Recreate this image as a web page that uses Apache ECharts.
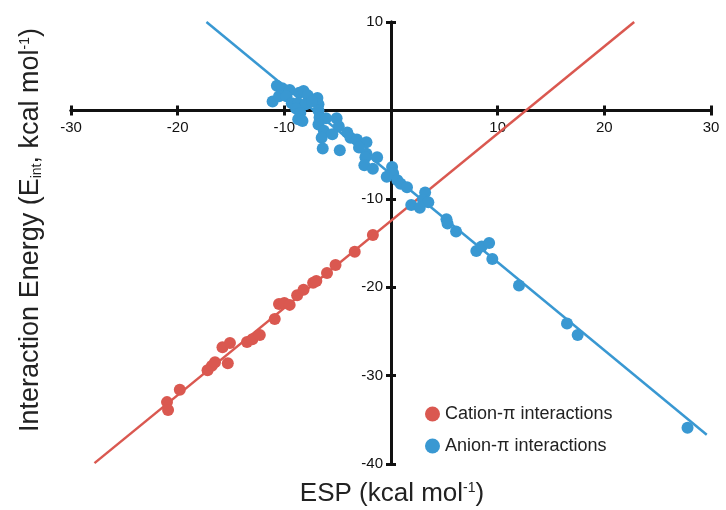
<!DOCTYPE html>
<html>
<head>
<meta charset="utf-8">
<script src="https://cdn.jsdelivr.net/npm/echarts@6/dist/echarts.min.js"></script>
<style>
html, body { margin: 0; padding: 0; background: #fff; }
#main { width: 726px; height: 510px; }
</style>
</head>
<body>
<div id="main"></div>
<script>
// 数据
var cationPoints = [
	[-21.0, -33.0], [-20.9, -33.9], [-19.8, -31.6], [-17.2, -29.4], [-16.8, -28.9],
	[-16.5, -28.5], [-15.3, -28.6], [-15.8, -26.8], [-15.1, -26.3], [-13.5, -26.2],
	[-13.0, -25.9], [-12.3, -25.4], [-10.9, -23.6], [-10.5, -21.9], [-10.0, -21.8],
	[-9.5, -22.0], [-8.8, -20.9], [-8.2, -20.3], [-7.3, -19.5], [-7.0, -19.3],
	[-6.0, -18.4], [-5.2, -17.5], [-3.4, -16.0], [-1.7, -14.1]
];
var anionPoints = [
	[-10.7, 2.8], [-10.2, 2.5], [-9.5, 2.3], [-11.1, 1.0], [-10.5, 1.6],
	[-9.8, 1.6], [-9.3, 0.8], [-8.6, 2.0], [-8.2, 2.2], [-7.8, 1.7],
	[-6.9, 1.4], [-6.8, 0.7], [-8.7, 0.8], [-8.0, 0.7], [-7.4, 1.0],
	[-8.9, 0.2], [-8.5, -0.3], [-8.7, -1.0], [-8.3, -1.2], [-6.8, 0.0],
	[-6.7, -0.8], [-6.1, -0.9], [-6.8, -1.6], [-6.3, -2.3], [-6.5, -3.1],
	[-5.1, -0.9], [-4.9, -1.8], [-5.5, -2.7], [-4.1, -2.5], [-3.8, -3.1],
	[-3.2, -3.3], [-2.3, -3.6], [-6.4, -4.3], [-4.8, -4.5], [-3.0, -4.2],
	[-2.3, -4.9], [-1.3, -5.3], [-2.4, -5.3], [-2.5, -6.2], [-1.7, -6.6],
	[0.1, -6.4], [0.2, -7.1], [0.6, -7.9], [0.9, -8.3], [1.5, -8.7],
	[3.2, -9.3], [3.0, -10.1], [3.5, -10.4], [1.9, -10.7], [2.7, -11.0],
	[5.2, -12.3], [5.3, -12.8], [6.1, -13.7], [8.0, -15.9], [8.5, -15.4],
	[9.2, -15.0], [9.5, -16.8], [12.0, -19.8], [16.5, -24.1], [17.5, -25.4],
	[27.8, -35.9], [-0.4, -7.5]
];
// 拟合线端点
var cationFit = [[-27.8, -39.9], [22.8, 10]];
var anionFit = [[-17.3, 10], [29.6, -36.7]];

var seriesNames = ['Cation-π interactions', 'Anion-π interactions'];
var xTicks = { min: -30, max: 30, step: 10 };
var yTicks = { min: -40, max: 10, step: 10 };

var red = '#DA5850';
var blue = '#3998D2';
var ink = '#111';

// 零轴所在像素位置（标签轴用 offset 挪过去）
var grid = { left: 71, right: 15, top: 22, bottom: 46 };
var xZeroOffset = -354; // 底边到 y=0
var yZeroOffset = -320; // 左边到 x=0

function hideZero(v) {
	return v === 0 ? '' : v;
}

function lineAxis(dim, inside) {
	var t = dim == 'x' ? xTicks : yTicks;
	return {
		type: 'value', position: dim == 'x' ? 'bottom' : 'left',
		min: t.min, max: t.max, interval: t.step,
		axisLine: { show: true, onZero: true, onZeroAxisIndex: 0, lineStyle: { color: ink, width: 3 } },
		splitLine: { show: false },
		axisTick: { show: true, inside: inside, length: 5, lineStyle: { color: ink, width: 3 } },
		axisLabel: { show: false }
	};
}

function labelAxis(dim) {
	var t = dim == 'x' ? xTicks : yTicks;
	return {
		type: 'value', position: dim == 'x' ? 'bottom' : 'left',
		offset: dim == 'x' ? xZeroOffset : yZeroOffset,
		min: t.min, max: t.max, interval: t.step,
		axisLine: { show: false, onZero: false },
		splitLine: { show: false },
		axisTick: { show: false },
		axisLabel: {
			margin: dim == 'x' ? 10 : 8,
			fontSize: 15, color: '#111', fontFamily: 'Liberation Sans',
			formatter: hideZero
		}
	};
}

var option = {
	animation: false,
	grid: grid,
	xAxis: [lineAxis('x', false), lineAxis('x', true), labelAxis('x')],
	yAxis: [lineAxis('y', false), lineAxis('y', true), labelAxis('y')],
	legend: {
		data: seriesNames,
		orient: 'vertical',
		left: 420,
		top: 400,
		itemGap: 14,
		itemWidth: 15,
		itemHeight: 15,
		icon: 'circle',
		textStyle: { fontSize: 18, color: '#222', fontFamily: 'Liberation Sans' }
	},
	graphic: [
		{
			type: 'text',
			x: 31, y: 230,
			rotation: Math.PI / 2,
			style: {
				text: 'Interaction Energy (E{sub|int}, kcal mol{sup|-1})',
				fill: '#222',
				font: '27px "Liberation Sans"',
				align: 'center',
				verticalAlign: 'middle',
				rich: {
					sub: { fontSize: 14, fill: '#222', fontFamily: 'Liberation Sans', padding: [12, 0, 0, 0] },
					sup: { fontSize: 14, fill: '#222', fontFamily: 'Liberation Sans', padding: [0, 0, 12, 0] }
				}
			}
		},
		{
			type: 'text',
			x: 392, y: 494,
			style: {
				text: 'ESP (kcal mol{sup|-1})',
				fill: '#222',
				font: '26px "Liberation Sans"',
				align: 'center',
				verticalAlign: 'middle',
				rich: {
					sup: { fontSize: 14, fill: '#222', fontFamily: 'Liberation Sans', padding: [0, 0, 12, 0] }
				}
			}
		}
	],
	series: [
		{
			name: 'cationFit', type: 'line', data: cationFit, symbol: 'none', z: 1,
			lineStyle: { color: red, width: 2.5 }, silent: true
		},
		{
			name: 'anionFit', type: 'line', data: anionFit, symbol: 'none', z: 1,
			lineStyle: { color: blue, width: 2.5 }, silent: true
		},
		{
			name: seriesNames[0], type: 'scatter', data: cationPoints, symbolSize: 12, z: 3,
			itemStyle: { color: red, opacity: 1 }
		},
		{
			name: seriesNames[1], type: 'scatter', data: anionPoints, symbolSize: 12, z: 3,
			itemStyle: { color: blue, opacity: 1 }
		}
	]
};

var myChart = echarts.init(document.getElementById('main'));
myChart.setOption(option);
</script>
</body>
</html>
